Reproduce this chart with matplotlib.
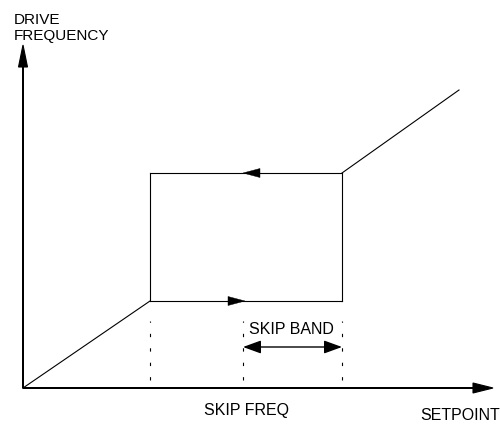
import matplotlib.pyplot as plt

plt.rcParams['font.family'] = ['Liberation Sans', 'DejaVu Sans']

# setpoint (x) against drive frequency (y), drawing units
ramp_x = [0, 127]
ramp_y = [0, 87]
band_lo = 127          # setpoint where the jump starts
skip_freq = 220        # skip frequency
band_hi = 319          # end of the skip band
freq_lo = 87
freq_hi = 215
top_x = [319, 436]
top_y = [215, 298]
x_max = 470
y_max = 343

fig = plt.figure(figsize=(5, 4.27), dpi=100)
ax = fig.add_axes([0, 0, 1, 1])
ax.set_xlim(-23, 477)
ax.set_ylim(-38, 389)
ax.axis('off')

k = 'black'
lw = 0.8

# axes with arrows
ax.arrow(0, 0, x_max, 0, head_width=10, head_length=20, length_includes_head=True,
         width=0.6, fc=k, ec=k, lw=0.8)
ax.arrow(0, 0, 0, y_max, head_width=9, head_length=22, length_includes_head=True,
         width=0.6, fc=k, ec=k, lw=0.8)

# curve
ax.plot(ramp_x, ramp_y, color=k, lw=lw)
ax.plot([band_lo, band_hi], [freq_lo, freq_lo], color=k, lw=lw)
ax.plot([band_lo, band_hi], [freq_hi, freq_hi], color=k, lw=lw)
ax.plot([band_lo, band_lo], [freq_lo, freq_hi], color=k, lw=lw)
ax.plot([band_hi, band_hi], [freq_lo, freq_hi], color=k, lw=lw)
ax.plot(top_x, top_y, color=k, lw=lw)

# direction heads
hl = 17
ax.arrow(skip_freq + 2 - hl, freq_lo, hl, 0, head_width=9, head_length=hl,
         length_includes_head=True, width=0, lw=0.3, fc=k, ec=k)
ax.arrow(skip_freq + hl, freq_hi, -hl, 0, head_width=9, head_length=hl,
         length_includes_head=True, width=0, lw=0.3, fc=k, ec=k)

# dashed markers
for xv in [band_lo, skip_freq, band_hi]:
    ax.plot([xv, xv], [8, 67], color=k, lw=0.8, ls=(0, (3, 10)))

# skip band double arrow
ax.annotate('', xy=(skip_freq, 41), xytext=(band_hi, 41),
            arrowprops=dict(arrowstyle='<|-|>,head_length=1.1,head_width=0.4',
                            color=k, lw=1.0, shrinkA=0, shrinkB=0))

fs = 11.5
ax.text(268, 59, 'SKIP BAND', fontsize=fs, ha='center', va='center')
ax.text(224, -22, 'SKIP FREQ', fontsize=fs, ha='center', va='center')
ax.text(477, -31, 'SETPOINT', fontsize=fs, ha='right', va='baseline')
ax.text(-9, 376, 'DRIVE\nFREQUENCY', fontsize=11, ha='left', va='top',
        linespacing=1.2)

fig.savefig('out.png', dpi=100)
